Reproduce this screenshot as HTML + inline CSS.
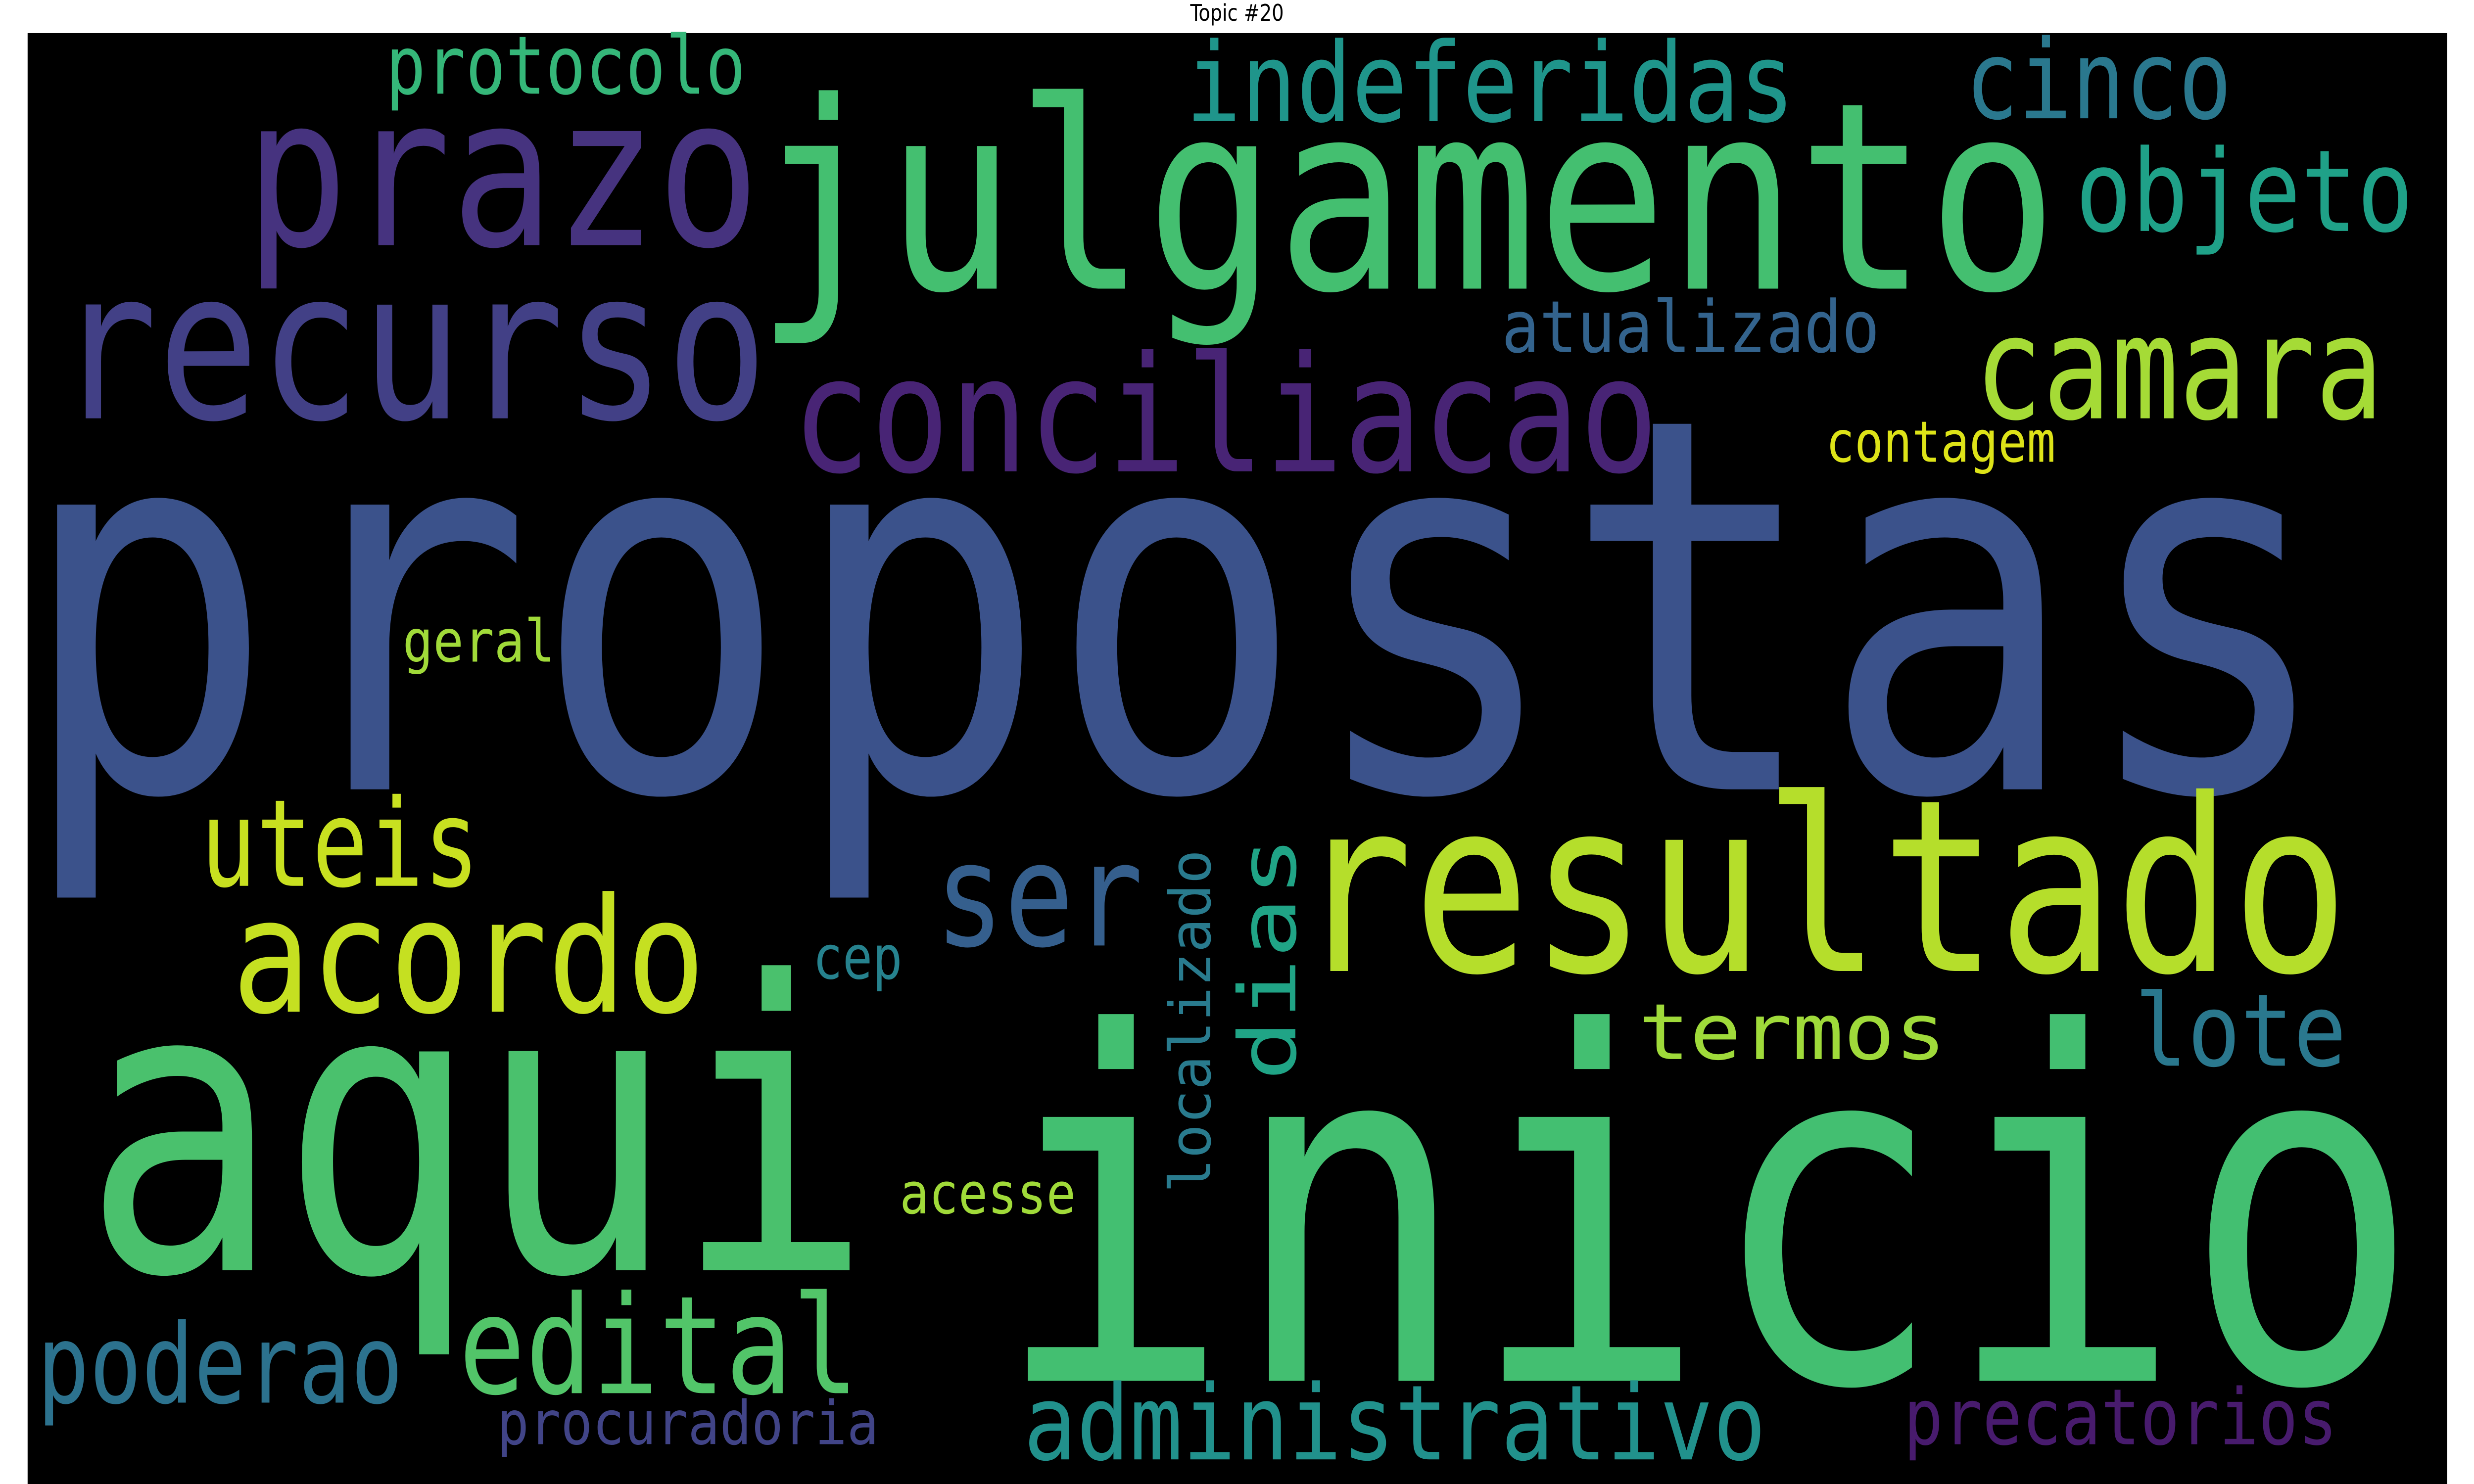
<!DOCTYPE html>
<html>
<head>
<meta charset="utf-8">
<style>
html,body{margin:0;padding:0;background:#fff;width:100%;height:100%;overflow:hidden;}
svg{display:block;position:fixed;left:0;top:0;width:100vw;height:100vh;}
</style>
</head>
<body>
<svg id="cloud" xmlns="http://www.w3.org/2000/svg" viewBox="0 0 1568 784" preserveAspectRatio="none">
  <rect x="0" y="0" width="1568" height="784" fill="#ffffff"/>
  <rect x="17.5" y="17.5" width="1533.5" height="767" fill="#000000"/>
  <text x="784" y="11" text-anchor="middle" font-family="DejaVu Sans, Liberation Sans, sans-serif" font-size="12" fill="#000">Topic #20</text>
  <g id="words"></g>
</svg>
<script>
// word data (thumbnail units, 1568x784 canvas)
const words = ["propostas","julgamento","inicio","aqui","recurso","prazo","conciliacao","resultado","acordo","camara","uteis","edital","poderao","administrativo","precatorios","procuradoria","indeferidas","cinco","objeto","atualizado","contagem","protocolo","geral","ser","dias","localizado","cep","termos","lote","acesse"];
const fontSizes = [275,138,255,212,110,110,85,127,84,76,64,72,58,55,41,32,58,58,60,38,30,42.7,31,76,50,36,32,41,53,30];
const inkStart = [27.5,487,645,65,42,162,507,829,152,1256,131,295,27,652,1209,317,755,1249,1319,954,1159,247,257,597,568,628,517,1041,1356,572];
const inkEnd = [1464,1296,1519,540,480,475,1046,1481,442,1506,300,540,252,1116,1479,555,1134,1411,1526,1189,1301,470,350,720,444.5,451,570,1231,1484,680];
const baselines = [417,152.5,729.5,671,221,129.5,249,513,534.5,221,468,736,741,771,763,763,64,62.5,122,186,244,49.5,349.5,499.5,821,767,517,559.5,563,641];
const vertical = [0,0,0,0,0,0,0,0,0,0,0,0,0,0,0,0,0,0,0,0,0,0,0,0,1,1,0,0,0,0];
const colors = ["#3b528b","#44bf70","#43bf71","#4ac16d","#424086","#46337f","#482475","#b5de2b","#c5e021","#a5db36","#c8e020","#52c569","#2c728e","#21918c","#481b6d","#414487","#1f958b","#2a788e","#1fa188","#33638d","#dde318","#35b779","#a0da39","#355f8d","#20a486","#297b8e","#26828e","#9fda3a","#2a788e","#a0da39"];

const NS = "http://www.w3.org/2000/svg";
const layer = document.getElementById("words");
for (let i = 0; i < words.length; i++) {
  const F = fontSizes[i];
  const t = document.createElementNS(NS, "text");
  
  
  t.setAttribute("font-family", "DejaVu Sans Mono, Liberation Mono, monospace");
  t.setAttribute("font-size", F);
  t.setAttribute("fill", colors[i]);
  const len = Math.abs(inkEnd[i] - inkStart[i]) + 0.12 * F;
  t.setAttribute("textLength", len);
  t.setAttribute("lengthAdjust", "spacingAndGlyphs");
  if (vertical[i]) {
    t.setAttribute("x", -0.06 * F);
    t.setAttribute("y", 0);
    t.setAttribute("transform", "translate(" + baselines[i] + "," + inkStart[i] + ") rotate(-90)");
  } else {
    t.setAttribute("x", inkStart[i] - 0.06 * F);
    t.setAttribute("y", baselines[i]);
  }
  t.textContent = words[i];
  layer.appendChild(t);
}
</script>
</body>
</html>
